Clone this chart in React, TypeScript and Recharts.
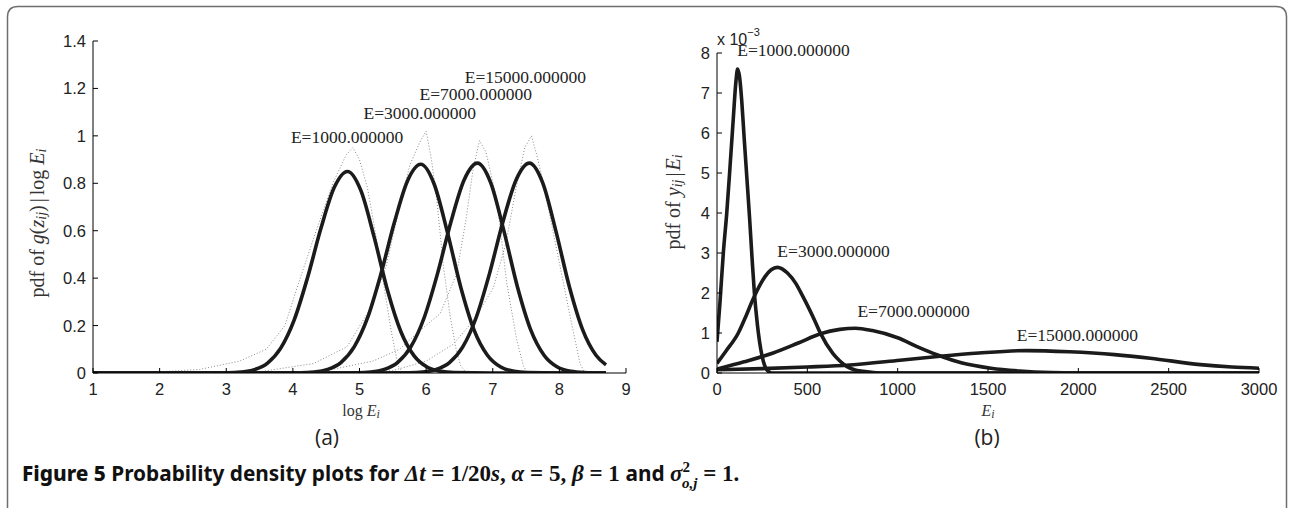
import { LineChart, Line, XAxis, YAxis, ReferenceDot } from 'recharts';

// tick values
const aTicksX = [1, 2, 3, 4, 5, 6, 7, 8, 9];
const aTicksY = [0, 0.2, 0.4, 0.6, 0.8, 1, 1.2, 1.4];
const bTicksX = [0, 500, 1000, 1500, 2000, 2500, 3000];
const bTicksY = [0, 1, 2, 3, 4, 5, 6, 7, 8];

const energies = ['E=1000.000000', 'E=3000.000000', 'E=7000.000000', 'E=15000.000000'];

// (a) model pdf of g(z_ij) | log E_i, one curve per E
const a1X = [1, 2, 3.02, 3.22, 3.42, 3.62, 3.82, 4.02, 4.22, 4.42, 4.62, 4.82, 5.02, 5.22, 5.42, 5.62, 5.82, 6.02, 6.22, 6.42, 7.0, 8.7];
const a1Y = [0, 0, 0.001, 0.004, 0.014, 0.042, 0.106, 0.224, 0.402, 0.609, 0.782, 0.85, 0.77, 0.573, 0.349, 0.175, 0.072, 0.024, 0.007, 0.002, 0, 0];
const a2X = [1, 3, 4.12, 4.32, 4.52, 4.72, 4.92, 5.12, 5.32, 5.52, 5.72, 5.92, 6.12, 6.32, 6.52, 6.72, 6.92, 7.12, 7.32, 7.52, 8, 8.7];
const a2Y = [0, 0, 0.001, 0.004, 0.015, 0.044, 0.11, 0.232, 0.416, 0.631, 0.81, 0.88, 0.797, 0.593, 0.362, 0.181, 0.075, 0.025, 0.007, 0.002, 0, 0];
const a3X = [1, 4, 4.97, 5.17, 5.37, 5.57, 5.77, 5.97, 6.17, 6.37, 6.57, 6.77, 6.97, 7.17, 7.37, 7.57, 7.77, 7.97, 8.17, 8.37, 8.7];
const a3Y = [0, 0, 0.001, 0.004, 0.015, 0.044, 0.11, 0.233, 0.418, 0.635, 0.814, 0.885, 0.802, 0.596, 0.364, 0.182, 0.075, 0.025, 0.007, 0.002, 0];
const a4X = [1, 5, 5.75, 5.95, 6.15, 6.35, 6.55, 6.75, 6.95, 7.15, 7.35, 7.55, 7.75, 7.95, 8.15, 8.35, 8.55, 8.7];
const a4Y = [0, 0, 0.001, 0.004, 0.015, 0.044, 0.11, 0.233, 0.418, 0.635, 0.814, 0.885, 0.802, 0.596, 0.364, 0.182, 0.075, 0.034];

// (a) simulated samples (grey dots)
const s1X = [1.2, 2, 2.6, 3.2, 3.6, 3.88, 4.11, 4.35, 4.6, 4.8, 4.9, 5.0, 5.12, 5.24, 5.36, 5.48, 5.58, 5.65];
const s1Y = [0, 0.005, 0.015, 0.05, 0.1, 0.2, 0.4, 0.6, 0.8, 0.92, 0.95, 0.9, 0.78, 0.59, 0.38, 0.17, 0.03, 0];
const s2X = [2.5, 3.5, 4.31, 4.81, 5.16, 5.4, 5.6, 5.76, 5.9, 6.0, 6.08, 6.16, 6.26, 6.36, 6.45, 6.52, 6.6];
const s2Y = [0, 0.005, 0.04, 0.11, 0.27, 0.45, 0.7, 0.88, 0.97, 1.02, 0.9, 0.73, 0.45, 0.24, 0.1, 0.03, 0];
const s3X = [3.5, 4.5, 5.2, 5.6, 5.91, 6.21, 6.46, 6.6, 6.7, 6.8, 6.9, 7.06, 7.21, 7.36, 7.46, 7.52];
const s3Y = [0, 0.01, 0.05, 0.1, 0.18, 0.25, 0.42, 0.65, 0.85, 0.98, 0.93, 0.73, 0.38, 0.14, 0.03, 0];
const s4X = [4.5, 5.5, 6.0, 6.4, 6.71, 7.01, 7.2, 7.35, 7.48, 7.58, 7.66, 7.76, 7.96, 8.16, 8.31, 8.38];
const s4Y = [0, 0.01, 0.05, 0.12, 0.22, 0.36, 0.55, 0.78, 0.95, 1.0, 0.92, 0.8, 0.52, 0.24, 0.04, 0];

// (b) model pdf of y_ij | E_i (values x 10^-3)
const b1X = [0, 17, 35, 54, 72, 90, 105, 114, 125, 137, 150, 165, 180, 195, 207, 218, 229, 242, 256, 270, 284, 300, 3000];
const b1Y = [0.78, 1.8, 3.0, 4.0, 5.15, 6.35, 7.3, 7.6, 7.4, 6.8, 5.9, 4.9, 3.9, 2.8, 2.0, 1.45, 1.0, 0.6, 0.3, 0.12, 0.04, 0, 0];
const b2X = [0, 50, 118, 160, 198, 266, 300, 334, 390, 436, 470, 504, 540, 573, 641, 680, 720, 760, 812, 900, 3000];
const b2Y = [0.24, 0.55, 1.0, 1.42, 1.83, 2.41, 2.58, 2.64, 2.5, 2.24, 1.96, 1.66, 1.32, 0.99, 0.49, 0.3, 0.16, 0.08, 0.04, 0, 0];
const b3X = [0, 150, 311, 450, 573, 680, 766, 860, 1000, 1107, 1221, 1357, 1516, 1675, 1850, 2000, 3000];
const b3Y = [0.1, 0.28, 0.5, 0.75, 0.98, 1.09, 1.12, 1.06, 0.88, 0.66, 0.45, 0.25, 0.12, 0.05, 0.01, 0, 0];
const b4X = [0, 250, 500, 736, 1013, 1235, 1450, 1715, 1950, 2200, 2398, 2675, 2850, 3000];
const b4Y = [0.08, 0.11, 0.15, 0.2, 0.32, 0.42, 0.5, 0.56, 0.53, 0.46, 0.37, 0.21, 0.15, 0.12];

// where the E=... annotations sit, in data units
const aLabelX = [3.97, 5.06, 5.9, 6.58];
const aLabelY = [0.995, 1.095, 1.175, 1.25];
const bLabelX = [112, 334, 777, 1659];
const bLabelY = [8.07, 3.06, 1.55, 0.95];

const zip = (xs: number[], ys: number[]) => xs.map((x, i) => ({ x, y: ys[i] }));

const SANS = '"Liberation Sans", Arial, sans-serif';
const SERIF = '"Liberation Serif", "Times New Roman", serif';
const INK = '#1b1b1b';

const XTick = ({ x, y, payload }: any) => (
  <g>
    <line x1={x} y1={y} x2={x} y2={y - 5} stroke="#000" strokeWidth={1} />
    <text x={x} y={y + 16} textAnchor="middle" dominantBaseline="central" fontFamily={SANS} fontSize={16.5} fill="#222">
      {payload.value}
    </text>
  </g>
);

const YTick = ({ x, y, payload }: any) => (
  <g>
    <line x1={x} y1={y} x2={x + 5} y2={y} stroke="#000" strokeWidth={1} />
    <text x={x - 7} y={y} textAnchor="end" dominantBaseline="central" fontFamily={SANS} fontSize={16.5} fill="#222">
      {payload.value}
    </text>
  </g>
);

const energyLabel = (text: string) => (p: any) => (
  <text x={p.viewBox.x + 1} y={p.viewBox.y + 1} dominantBaseline="central" fontFamily={SERIF} fontSize={17.5} fill="#222">
    {text}
  </text>
);

const modelLine = (key: string, pts: { x: number; y: number }[]) => (
  <Line key={key} data={pts} dataKey="y" type="monotone" dot={false} stroke={INK} strokeWidth={3.6} isAnimationActive={false} />
);

const simLine = (key: string, pts: { x: number; y: number }[]) => (
  <Line key={key} data={pts} dataKey="y" type="linear" dot={false} stroke="#8a8a8a" strokeWidth={1} strokeDasharray="1 2" isAnimationActive={false} />
);

const PanelA = () => (
  <LineChart width={660} height={420} margin={{ top: 41, right: 34, bottom: 17, left: 53 }}>
    <XAxis type="number" dataKey="x" domain={[1, 9]} ticks={aTicksX} allowDataOverflow height={30}
      tickSize={0} tickMargin={0} tickLine={false} axisLine={{ stroke: '#000' }} tick={<XTick />} />
    <YAxis type="number" dataKey="y" domain={[0, 1.4]} ticks={aTicksY} allowDataOverflow width={40}
      tickSize={0} tickMargin={0} tickLine={false} axisLine={{ stroke: '#000' }} tick={<YTick />} />
    {simLine('s1', zip(s1X, s1Y))}
    {simLine('s2', zip(s2X, s2Y))}
    {simLine('s3', zip(s3X, s3Y))}
    {simLine('s4', zip(s4X, s4Y))}
    {modelLine('a1', zip(a1X, a1Y))}
    {modelLine('a2', zip(a2X, a2Y))}
    {modelLine('a3', zip(a3X, a3Y))}
    {modelLine('a4', zip(a4X, a4Y))}
    {energies.map((t, i) => (
      <ReferenceDot key={t} x={aLabelX[i]} y={aLabelY[i]} r={1} fill="none" stroke="none" ifOverflow="visible" label={energyLabel(t)} />
    ))}
  </LineChart>
);

const PanelB = () => (
  <LineChart width={634} height={420} margin={{ top: 53, right: 35, bottom: 17, left: 17 }}>
    <XAxis type="number" dataKey="x" domain={[0, 3000]} ticks={bTicksX} allowDataOverflow height={30}
      tickSize={0} tickMargin={0} tickLine={false} axisLine={{ stroke: '#000' }} tick={<XTick />} />
    <YAxis type="number" dataKey="y" domain={[0, 8]} ticks={bTicksY} allowDataOverflow width={40}
      tickSize={0} tickMargin={0} tickLine={false} axisLine={{ stroke: '#000' }} tick={<YTick />} />
    {modelLine('b1', zip(b1X, b1Y))}
    {modelLine('b2', zip(b2X, b2Y))}
    {modelLine('b3', zip(b3X, b3Y))}
    {modelLine('b4', zip(b4X, b4Y))}
    {energies.map((t, i) => (
      <ReferenceDot key={t} x={bLabelX[i]} y={bLabelY[i]} r={1} fill="none" stroke="none" ifOverflow="visible" label={energyLabel(t)} />
    ))}
  </LineChart>
);

const it = { fontStyle: 'italic' as const };

export default function App() {
  return (
    <div style={{ position: 'absolute', left: 0, top: 0, width: 1294, height: 508, background: '#fff', overflow: 'hidden' }}>
      <div style={{ position: 'absolute', left: 0, top: 0 }}>
        <PanelA />
      </div>
      <div style={{ position: 'absolute', left: 660, top: 0 }}>
        <PanelB />
      </div>
      <svg width={1294} height={508} style={{ position: 'absolute', left: 0, top: 0, pointerEvents: 'none' }}>
        <path d="M7.5 508 L7.5 17 Q7.5 6.5 18 6.5 L1276 6.5 Q1286.5 6.5 1286.5 17 L1286.5 508" fill="none" stroke="#6e6e6e" strokeWidth={1.5} />

        {/* axis titles, panel (a) */}
        <text transform="translate(37,223) rotate(-90)" textAnchor="middle" dominantBaseline="central" fontFamily={SERIF} fontSize={20} fill="#333">
          pdf of <tspan style={it}>g</tspan>(<tspan style={it}>z</tspan>
          <tspan style={it} fontSize={14} dy={4}>ij</tspan>
          <tspan dy={-4}>)</tspan>
          <tspan dx={3}>|</tspan>
          <tspan dx={3}>log </tspan><tspan style={it}>E</tspan>
          <tspan style={it} fontSize={14} dy={4}>i</tspan>
        </text>
        <text x={361} y={410} textAnchor="middle" dominantBaseline="central" fontFamily={SERIF} fontSize={16} fill="#333">
          log <tspan style={it}>E</tspan>
          <tspan style={it} fontSize={12} dy={4}>i</tspan>
        </text>
        <text x={327} y={437} textAnchor="middle" dominantBaseline="central" fontFamily='"Open Sans", sans-serif' fontSize={21} fill="#222">(a)</text>

        {/* axis titles, panel (b) */}
        <text transform="translate(673,202) rotate(-90)" textAnchor="middle" dominantBaseline="central" fontFamily={SERIF} fontSize={20} fill="#333">
          pdf of <tspan style={it}>y</tspan>
          <tspan style={it} fontSize={14} dy={4}>ij</tspan>
          <tspan dy={-4} dx={3}>|</tspan>
          <tspan style={it} dx={2}>E</tspan>
          <tspan style={it} fontSize={14} dy={4}>i</tspan>
        </text>
        <text x={988} y={410} textAnchor="middle" dominantBaseline="central" fontFamily={SERIF} fontSize={16} fill="#333">
          <tspan style={it}>E</tspan>
          <tspan style={it} fontSize={12} dy={4}>i</tspan>
        </text>
        <text x={987} y={437} textAnchor="middle" dominantBaseline="central" fontFamily='"Open Sans", sans-serif' fontSize={21} fill="#222">(b)</text>
        <text x={717} y={45} fontFamily={SANS} fontSize={16} fill="#222">
          x 10<tspan fontSize={11} dy={-9}>−3</tspan>
        </text>

        {/* caption */}
        <text x={22} y={481} fontFamily='"Noto Sans", Lato, sans-serif' fontWeight={700} fontSize={20.8} fill="#111">
          <tspan fontWeight={800}>Figure 5</tspan> Probability density plots for{' '}
          <tspan fontFamily={SERIF} fontSize={23} fontStyle="italic">Δt</tspan>
          <tspan fontFamily={SERIF} fontSize={23}> = 1/20</tspan>
          <tspan fontFamily={SERIF} fontSize={23} fontStyle="italic">s</tspan>
          <tspan fontFamily={SERIF} fontSize={23}>, </tspan>
          <tspan fontFamily={SERIF} fontSize={23} fontStyle="italic">α</tspan>
          <tspan fontFamily={SERIF} fontSize={23}> = 5, </tspan>
          <tspan fontFamily={SERIF} fontSize={23} fontStyle="italic">β</tspan>
          <tspan fontFamily={SERIF} fontSize={23}> = 1 </tspan>and{' '}
          <tspan fontFamily={SERIF} fontSize={23} fontStyle="italic">σ</tspan>
          <tspan fontFamily={SERIF} fontSize={15} dy={-9}>2</tspan>
          <tspan fontFamily={SERIF} fontSize={15} fontStyle="italic" dx={-8} dy={16}>o,j</tspan>
          <tspan fontFamily={SERIF} fontSize={23} dy={-7}> = 1.</tspan>
        </text>
      </svg>
    </div>
  );
}
